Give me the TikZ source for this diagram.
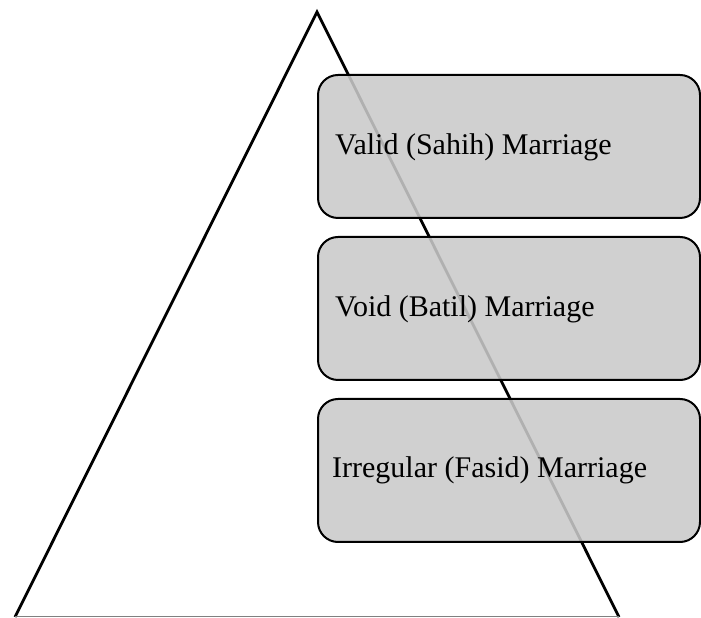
\documentclass[tikz,border=0pt]{standalone}
\usepackage{fontspec}
\setmainfont{Liberation Serif}
\begin{document}
\begin{tikzpicture}[x=1pt,y=1pt,
  levelbox/.style={draw=black,line width=2pt,rounded corners=20pt,fill=black!21,fill opacity=0.88,text opacity=1,
    minimum width=382pt,minimum height=143pt,anchor=north west,inner sep=0pt},
  lbl/.style={anchor=base west,font=\fontsize{30}{34}\selectfont,inner sep=0pt}]
\useasboundingbox (0,0) rectangle (701,618);
\coordinate (apex) at (317,606);
\coordinate (bl) at (15,1);
\coordinate (br) at (619,1);
\draw[line width=2.8pt,line join=miter] (bl) -- (apex) -- (br);
\draw[line width=1pt,black!50] (bl) -- (br);
\node[levelbox] (b1) at (317,544) {};
\node[levelbox] (b2) at (317,382) {};
\node[levelbox] (b3) at (317,220) {};
\node[lbl] (t1) at (335,463) {Valid (Sahih) Marriage};
\node[lbl] (t2) at (335,301) {Void (Batil) Marriage};
\node[lbl] (t3) at (332,140) {Irregular (Fasid) Marriage};
\end{tikzpicture}
\end{document}
